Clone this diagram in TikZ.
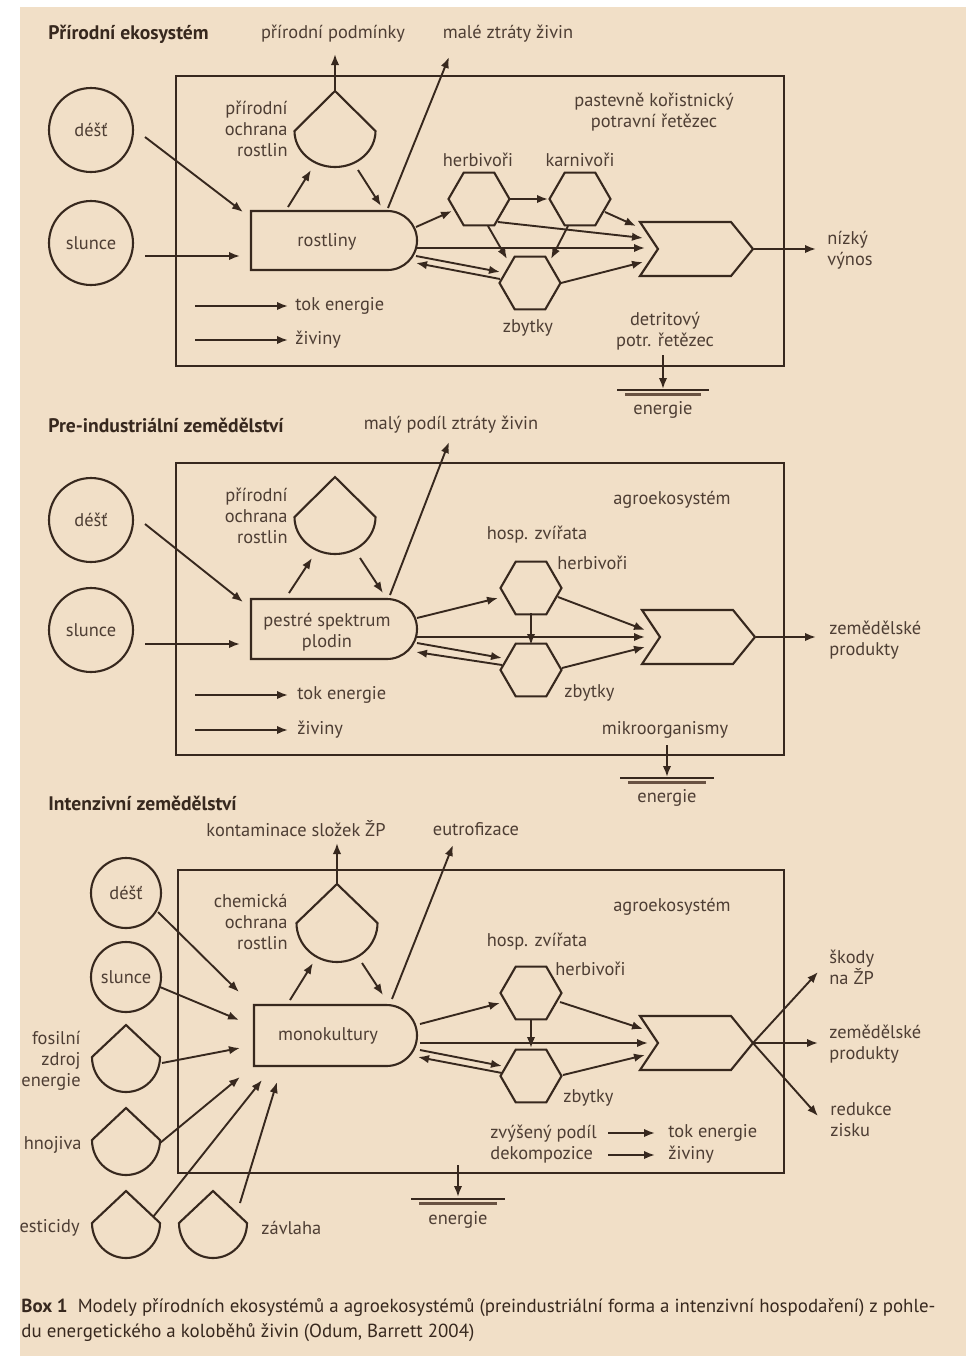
\documentclass[tikz,border=0pt]{standalone}
\usepackage{fontspec}
\setmainfont{PT Sans}
\usetikzlibrary{arrows.meta}
\definecolor{paper}{RGB}{241,223,199}
\definecolor{ink}{RGB}{55,40,30}
\definecolor{txt}{RGB}{78,62,52}
\definecolor{sinkc}{RGB}{105,82,66}
\newcommand\hexg[3]{% name, x, y
  \coordinate (#1) at (#2,#3);
  \draw[ln] (#2-30.5,#3) -- (#2-15.25,#3-26.4) -- (#2+15.25,#3-26.4) -- (#2+30.5,#3)
    -- (#2+15.25,#3+26.4) -- (#2-15.25,#3+26.4) -- cycle;}
\newcommand\dropg[6]{% name, x, chord y, half width, peak height, arc depth
  \coordinate (#1) at (#2,#3);
  \draw[ln] (#2-#4,#3) -- (#2,#3-#5) -- (#2+#4,#3)
    arc[start angle=0,end angle=180,x radius=#4,y radius=#6] -- cycle;}
\newcommand\plant[5]{% name, left x, top y, bottom y, right extreme x
  \coordinate (#1) at (#2,#3);
  \draw[ln] (#2,#3) -- ({#5-(#4-#3)/2},#3)
    arc[start angle=-90,end angle=90,radius={(#4-#3)/2}] -- (#2,#4) -- cycle;}
\newcommand\chev[3]{% name, top-left x, y
  \coordinate (#1) at (#2,#3);
  \draw[ln] (#2,#3) -- (#2+91,#3) -- (#2+113,#3+27) -- (#2+91,#3+54) -- (#2,#3+54) -- (#2+18,#3+27) -- cycle;}
\newcommand\sinkg[4]{% name, x, line y, half width
  \coordinate (#1) at (#2,#3);
  \draw[ink,line width=1pt] (#2-#4,#3) -- (#2+#4,#3);
  \draw[sinkc,line width=1.6pt] (#2-#4+8,#3+4.5) -- (#2+#4-8,#3+4.5);}
\newcommand\con[2]{\draw[arr] (#1) -- (#2);}
\begin{document}
\begin{tikzpicture}[x=0.5pt,y=-0.5pt,
  ln/.style={draw=ink,line width=1.05pt,line join=miter},
  arr/.style={draw=ink,line width=0.95pt,-{Latex[length=5.5pt,width=4.2pt]}},
  lbl/.style={text=txt,font=\fontsize{9.2}{10.6}\selectfont,inner sep=0pt},
  ttl/.style={text=ink,font=\fontsize{9.8}{11}\selectfont\bfseries,inner sep=0pt,anchor=west},
  src/.style={circle,draw=ink,line width=1.05pt,inner sep=0pt,text=txt,font=\fontsize{9.2}{10.6}\selectfont},
  boxg/.style={draw=ink,line width=1.05pt}]
\useasboundingbox (0,0) rectangle (966,1356);
\fill[white] (0,0) rectangle (966,1356);
\fill[paper] (20,7) rectangle (966,1356);
\begin{scope}
\clip (20,7) rectangle (966,1356);
% ================= Panel 1 =================
\node[ttl] (t1) at (48,34) {Přírodní ekosystém};
\node[lbl] (o1a) at (333,34) {přírodní podmínky};
\node[lbl] (o1b) at (508,34) {malé ztráty živin};
\draw[boxg] (176,76) rectangle (784,366);
\node[src,minimum size=42pt] (d1) at (91,130) {déšť};
\node[src,minimum size=42pt] (s1) at (91,243) {slunce};
\plant{r1}{251}{211}{270}{417}
\node[lbl] (r1t) at (327,242) {rostliny};
\dropg{p1}{335}{131}{40.5}{40}{36}
\node[lbl,align=right,anchor=east] (p1t) at (288,129) {přírodní\\ochrana\\rostlin};
\node[lbl,align=center] (f1t) at (654,112) {pastevně kořistnický\\potravní řetězec};
\node[lbl] (h1t) at (478,160) {herbivoři};
\node[lbl] (k1t) at (580,160) {karnivoři};
\hexg{h1}{479}{199}
\hexg{k1}{580}{199}
\hexg{z1}{530}{283}
\node[lbl] (z1t) at (528,328) {zbytky};
\node[lbl,align=center] (dt1) at (665,331) {detritový\\potr. řetězec};
\chev{c1}{640}{222}
\node[lbl,align=left,anchor=west] (y1) at (827,250) {nízký\\výnos};
\sinkg{g1}{663}{390}{46}
\node[lbl] (e1) at (663,410) {energie};
\node[lbl,anchor=west] (le1) at (295,306) {tok energie};
\node[lbl,anchor=west] (ln1) at (295,340) {živiny};
\foreach \n/\x/\y in {a1/145/137, a2/243/212, b1/145/256, b2/240/256, c1a/288/207, c2a/311/170,
  c3a/358/170, c4a/381/206, u1/335/91, u2/335/54, m1/388/208, m2/449/57, rh1/416/227, rh2/452/211,
  hk1/510/199, hk2/548/199, kc1/605/212, kc2/636/226, hc1/498/222, hc2/643/238, rc1/417/248, rc2/645/248,
  zc1/561/283, zc2/643/262, hz1/488/226, hz2/507/259, kz1/568/226, kz2/551/259, rz1/416/256, rz2/500/272,
  zr1/500/279, zr2/416/263, cy1/754/249, cy2/816/249, la1/195/306, la2/288/306, lb1/195/340, lb2/288/340,
  sg1/663/355, sg2/663/389}
  {\coordinate (P1\n) at (\x,\y);}
\con{P1a1}{P1a2}\con{P1b1}{P1b2}\con{P1c1a}{P1c2a}\con{P1c3a}{P1c4a}\con{P1u1}{P1u2}
\con{P1m1}{P1m2}\con{P1rh1}{P1rh2}\con{P1hk1}{P1hk2}\con{P1kc1}{P1kc2}\con{P1hc1}{P1hc2}
\con{P1rc1}{P1rc2}\con{P1zc1}{P1zc2}\con{P1hz1}{P1hz2}\con{P1kz1}{P1kz2}\con{P1rz1}{P1rz2}
\con{P1zr1}{P1zr2}\con{P1cy1}{P1cy2}\con{P1la1}{P1la2}\con{P1lb1}{P1lb2}\con{P1sg1}{P1sg2}
% ================= Panel 2 =================
\node[ttl] (t2) at (48,425) {Pre-industriální zemědělství};
\node[lbl] (o2a) at (451,425) {malý podíl ztráty živin};
\draw[boxg] (176,463) rectangle (784,755);
\node[src,minimum size=42pt] (d2) at (91,520) {déšť};
\node[src,minimum size=42pt] (s2) at (91,630) {slunce};
\plant{r2}{251}{599}{659}{417}
\node[lbl,align=center] (r2t) at (327,632) {pestré spektrum\\plodin};
\dropg{p2}{335}{517}{40.5}{40}{37}
\node[lbl,align=right,anchor=east] (p2t) at (288,516) {přírodní\\ochrana\\rostlin};
\node[lbl] (ag2) at (672,500) {agroekosystém};
\node[lbl] (hz2t) at (537,535) {hosp. zvířata};
\node[lbl,anchor=west] (h2t) at (557,563) {herbivoři};
\hexg{h2}{531}{588}
\hexg{z2}{531}{670}
\node[lbl,anchor=west] (z2t) at (564,693) {zbytky};
\chev{c2}{642}{610}
\node[lbl,align=left,anchor=west] (y2) at (829,640) {zemědělské\\produkty};
\node[lbl] (mo2) at (665,730) {mikroorganismy};
\sinkg{g2}{667}{778}{47}
\node[lbl] (e2) at (667,798) {energie};
\node[lbl,anchor=west] (le2) at (297,695) {tok energie};
\node[lbl,anchor=west] (ln2) at (297,730) {živiny};
\foreach \n/\x/\y in {a1/145/524, a2/243/602, b1/145/644, b2/240/644, c1a/289/593, c2a/312/558,
  c3a/360/558, c4a/383/593, m1/390/595, m2/449/442, rh1/417/618, rh2/498/598, rc1/417/637, rc2/645/637,
  hc1/558/597, hc2/645/630, zc1/562/668, zc2/645/647, rz1/417/643, rz2/502/658, zr1/502/665, zr2/416/652,
  hz1/531/613, hz2/531/645, cy1/756/637, cy2/816/637, la1/195/695, la2/288/695, lb1/195/730, lb2/288/730,
  sg1/667/745, sg2/667/777}
  {\coordinate (P2\n) at (\x,\y);}
\con{P2a1}{P2a2}\con{P2b1}{P2b2}\con{P2c1a}{P2c2a}\con{P2c3a}{P2c4a}\con{P2m1}{P2m2}
\con{P2rh1}{P2rh2}\con{P2rc1}{P2rc2}\con{P2hc1}{P2hc2}\con{P2zc1}{P2zc2}\con{P2rz1}{P2rz2}
\con{P2zr1}{P2zr2}\con{P2hz1}{P2hz2}\con{P2cy1}{P2cy2}\con{P2la1}{P2la2}\con{P2lb1}{P2lb2}
\con{P2sg1}{P2sg2}
% ================= Panel 3 =================
\node[ttl] (t3) at (48,803) {Intenzivní zemědělství};
\node[lbl] (o3a) at (296,829) {kontaminace složek ŽP};
\node[lbl] (o3b) at (476,829) {eutrofizace};
\draw[boxg] (178,870) rectangle (784,1173);
\node[src,minimum size=35pt] (d3) at (126,893) {déšť};
\node[src,minimum size=35pt] (s3) at (126,977) {slunce};
\dropg{fo3}{126}{1057}{34}{32}{35}
\node[lbl,align=right,anchor=east] (fo3t) at (81,1061) {fosilní\\zdroj\\energie};
\dropg{hn3}{126}{1140}{34}{32}{35}
\node[lbl,anchor=east] (hn3t) at (82,1145) {hnojiva};
\dropg{pe3}{126}{1223}{34}{32}{35}
\node[lbl,anchor=east] (pe3t) at (80,1228) {pesticidy};
\dropg{za3}{213}{1223}{34}{32}{35}
\node[lbl,anchor=west] (za3t) at (261,1228) {závlaha};
\dropg{ch3}{337}{923}{40.5}{39}{39}
\node[lbl,align=right,anchor=east] (ch3t) at (288,922) {chemická\\ochrana\\rostlin};
\plant{r3}{254}{1005}{1066}{417}
\node[lbl] (r3t) at (328,1036) {monokultury};
\node[lbl] (ag3) at (672,907) {agroekosystém};
\node[lbl] (hz3t) at (537,942) {hosp. zvířata};
\node[lbl,anchor=west] (h3t) at (555,969) {herbivoři};
\hexg{h3}{531}{993}
\hexg{z3}{531}{1076}
\node[lbl,anchor=west] (z3t) at (563,1098) {zbytky};
\chev{c3}{640}{1016}
\node[lbl,align=left,anchor=west] (sk3) at (829,967) {škody\\na ŽP};
\node[lbl,align=left,anchor=west] (y3) at (829,1044) {zemědělské\\produkty};
\node[lbl,align=left,anchor=west] (rd3) at (830,1120) {redukce\\zisku};
\node[lbl,align=left,anchor=west] (dk3) at (490,1144) {zvýšený podíl\\dekompozice};
\node[lbl,anchor=west] (le3) at (668,1133) {tok energie};
\node[lbl,anchor=west] (ln3) at (668,1155) {živiny};
\sinkg{g3}{458}{1199}{47}
\node[lbl] (e3) at (458,1220) {energie};
\foreach \n/\x/\y in {u1/337/884, u2/337/843, c1a/290/1000, c2a/313/963, c3a/362/963, c4a/383/995,
  m1/392/999, m2/453/845, a1/158/912, a2/239/992, b1/160/987, b2/239/1020, f1/162/1063, f2/240/1048,
  n1/160/1143, n2/240/1077, q1/153/1217, q2/262/1080, w1/240/1203, w2/277/1082,
  rh1/420/1024, rh2/500/1003, rc1/420/1043, rc2/648/1043, hc1/560/1002, hc2/643/1029,
  zc1/563/1075, zc2/645/1055, rz1/420/1050, rz2/502/1066, zr1/502/1073, zr2/418/1057,
  hz1/531/1020, hz2/531/1048, x0/753/1043, x1/818/972, x2/818/1043, x3/818/1116,
  la1/608/1133, la2/655/1133, lb1/608/1155, lb2/655/1155, sg1/458/1165, sg2/458/1197}
  {\coordinate (P3\n) at (\x,\y);}
\con{P3u1}{P3u2}\con{P3c1a}{P3c2a}\con{P3c3a}{P3c4a}\con{P3m1}{P3m2}\con{P3a1}{P3a2}
\con{P3b1}{P3b2}\con{P3f1}{P3f2}\con{P3n1}{P3n2}\con{P3q1}{P3q2}\con{P3w1}{P3w2}
\con{P3rh1}{P3rh2}\con{P3rc1}{P3rc2}\con{P3hc1}{P3hc2}\con{P3zc1}{P3zc2}\con{P3rz1}{P3rz2}
\con{P3zr1}{P3zr2}\con{P3hz1}{P3hz2}\con{P3x0}{P3x1}\con{P3x0}{P3x2}\con{P3x0}{P3x3}
\con{P3la1}{P3la2}\con{P3lb1}{P3lb2}\con{P3sg1}{P3sg2}
% ================= Caption =================
\node[text=ink,font=\fontsize{9.45}{11}\selectfont,inner sep=0pt,anchor=west] (cap1) at (21,1308)
  {\textbf{Box 1}\ \ Modely přírodních ekosystémů a agroekosystémů (preindustriální forma a intenzivní hospodaření) z pohle-};
\node[text=ink,font=\fontsize{9.45}{11}\selectfont,inner sep=0pt,anchor=west] (cap2) at (21,1333)
  {du energetického a koloběhů živin (Odum, Barrett 2004)};
\end{scope}
\end{tikzpicture}
\end{document}
